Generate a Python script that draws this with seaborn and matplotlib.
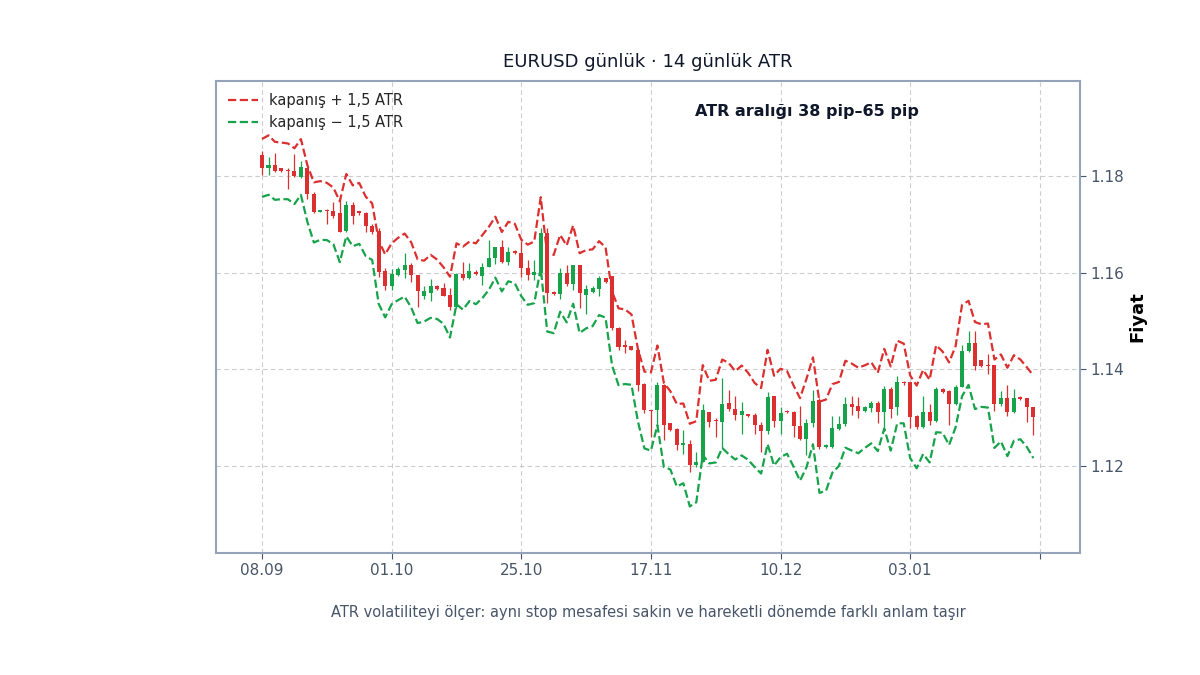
import matplotlib

matplotlib.use("Agg")

import numpy as np
import pandas as pd
import matplotlib.pyplot as plt
import seaborn as sns

# ------------------------------------------------------------------
# Data (EURUSD daily, 120 bars)
# ------------------------------------------------------------------
opens = [
    1.1843, 1.1817, 1.1823, 1.1816, 1.1813, 1.1810, 1.1799, 1.1817, 1.1764, 1.1726,
    1.1729, 1.1728, 1.1724, 1.1687, 1.1740, 1.1728, 1.1724, 1.1697, 1.1687, 1.1603,
    1.1573, 1.1596, 1.1606, 1.1616, 1.1596, 1.1553, 1.1559, 1.1572, 1.1568, 1.1555,
    1.1529, 1.1598, 1.1589, 1.1601, 1.1594, 1.1613, 1.1630, 1.1653, 1.1623, 1.1645,
    1.1640, 1.1610, 1.1595, 1.1599, 1.1683, 1.1561, 1.1556, 1.1599, 1.1577, 1.1617,
    1.1554, 1.1561, 1.1566, 1.1589, 1.1594, 1.1485, 1.1450, 1.1448, 1.1441, 1.1369,
    1.1316, 1.1316, 1.1367, 1.1289, 1.1276, 1.1243, 1.1245, 1.1202, 1.1209, 1.1312,
    1.1296, 1.1291, 1.1331, 1.1319, 1.1305, 1.1307, 1.1305, 1.1285, 1.1273, 1.1344,
    1.1294, 1.1315, 1.1312, 1.1283, 1.1257, 1.1289, 1.1336, 1.1239, 1.1239, 1.1276,
    1.1287, 1.1328, 1.1324, 1.1315, 1.1321, 1.1331, 1.1312, 1.1360, 1.1322, 1.1375,
    1.1373, 1.1303, 1.1281, 1.1312, 1.1293, 1.1359, 1.1355, 1.1329, 1.1364, 1.1439,
    1.1455, 1.1419, 1.1410, 1.1410, 1.1329, 1.1341, 1.1312, 1.1343, 1.1340, 1.1322,
]
highs = [
    1.1852, 1.1840, 1.1849, 1.1817, 1.1816, 1.1845, 1.1831, 1.1819, 1.1768, 1.1730,
    1.1733, 1.1747, 1.1754, 1.1748, 1.1746, 1.1728, 1.1725, 1.1702, 1.1692, 1.1610,
    1.1608, 1.1612, 1.1640, 1.1621, 1.1596, 1.1572, 1.1587, 1.1575, 1.1579, 1.1568,
    1.1599, 1.1623, 1.1621, 1.1606, 1.1621, 1.1668, 1.1654, 1.1667, 1.1654, 1.1647,
    1.1665, 1.1627, 1.1627, 1.1693, 1.1693, 1.1562, 1.1610, 1.1617, 1.1617, 1.1617,
    1.1575, 1.1572, 1.1594, 1.1590, 1.1594, 1.1487, 1.1461, 1.1449, 1.1443, 1.1372,
    1.1317, 1.1374, 1.1370, 1.1290, 1.1278, 1.1274, 1.1254, 1.1230, 1.1328, 1.1312,
    1.1300, 1.1382, 1.1358, 1.1346, 1.1333, 1.1308, 1.1309, 1.1291, 1.1353, 1.1345,
    1.1322, 1.1317, 1.1315, 1.1324, 1.1298, 1.1358, 1.1340, 1.1245, 1.1303, 1.1303,
    1.1343, 1.1346, 1.1343, 1.1324, 1.1335, 1.1335, 1.1365, 1.1364, 1.1386, 1.1377,
    1.1374, 1.1305, 1.1346, 1.1329, 1.1364, 1.1361, 1.1357, 1.1367, 1.1450, 1.1480,
    1.1480, 1.1419, 1.1432, 1.1410, 1.1355, 1.1368, 1.1359, 1.1345, 1.1340, 1.1322,
]
lows = [
    1.1802, 1.1803, 1.1809, 1.1809, 1.1773, 1.1799, 1.1797, 1.1753, 1.1723, 1.1725,
    1.1700, 1.1714, 1.1684, 1.1684, 1.1700, 1.1720, 1.1684, 1.1680, 1.1592, 1.1564,
    1.1565, 1.1594, 1.1589, 1.1580, 1.1529, 1.1546, 1.1541, 1.1564, 1.1551, 1.1524,
    1.1527, 1.1586, 1.1587, 1.1596, 1.1575, 1.1612, 1.1619, 1.1620, 1.1616, 1.1638,
    1.1591, 1.1585, 1.1585, 1.1594, 1.1537, 1.1555, 1.1545, 1.1572, 1.1565, 1.1528,
    1.1515, 1.1559, 1.1552, 1.1578, 1.1481, 1.1441, 1.1433, 1.1440, 1.1356, 1.1310,
    1.1261, 1.1281, 1.1254, 1.1272, 1.1233, 1.1226, 1.1188, 1.1199, 1.1209, 1.1281,
    1.1261, 1.1237, 1.1315, 1.1295, 1.1267, 1.1302, 1.1267, 1.1230, 1.1267, 1.1281,
    1.1267, 1.1309, 1.1261, 1.1254, 1.1223, 1.1281, 1.1235, 1.1238, 1.1237, 1.1274,
    1.1283, 1.1305, 1.1300, 1.1312, 1.1312, 1.1289, 1.1274, 1.1300, 1.1305, 1.1368,
    1.1279, 1.1276, 1.1278, 1.1285, 1.1291, 1.1351, 1.1285, 1.1326, 1.1364, 1.1436,
    1.1398, 1.1405, 1.1391, 1.1315, 1.1324, 1.1304, 1.1309, 1.1336, 1.1291, 1.1264,
]
closes = [
    1.1817, 1.1823, 1.1811, 1.1811, 1.1810, 1.1800, 1.1819, 1.1764, 1.1725, 1.1729,
    1.1727, 1.1718, 1.1685, 1.1740, 1.1718, 1.1723, 1.1696, 1.1685, 1.1601, 1.1573,
    1.1598, 1.1608, 1.1616, 1.1596, 1.1562, 1.1562, 1.1572, 1.1566, 1.1553, 1.1529,
    1.1598, 1.1589, 1.1603, 1.1598, 1.1613, 1.1630, 1.1653, 1.1623, 1.1644, 1.1640,
    1.1610, 1.1596, 1.1601, 1.1683, 1.1558, 1.1556, 1.1599, 1.1577, 1.1617, 1.1558,
    1.1566, 1.1569, 1.1589, 1.1580, 1.1485, 1.1447, 1.1447, 1.1441, 1.1367, 1.1316,
    1.1313, 1.1367, 1.1285, 1.1274, 1.1243, 1.1247, 1.1202, 1.1209, 1.1316, 1.1291,
    1.1293, 1.1329, 1.1319, 1.1305, 1.1315, 1.1303, 1.1285, 1.1273, 1.1343, 1.1294,
    1.1310, 1.1311, 1.1283, 1.1255, 1.1289, 1.1335, 1.1239, 1.1243, 1.1278, 1.1287,
    1.1328, 1.1322, 1.1315, 1.1323, 1.1331, 1.1312, 1.1360, 1.1319, 1.1374, 1.1371,
    1.1302, 1.1281, 1.1312, 1.1293, 1.1360, 1.1353, 1.1329, 1.1364, 1.1439, 1.1455,
    1.1408, 1.1408, 1.1408, 1.1329, 1.1341, 1.1312, 1.1341, 1.1338, 1.1322, 1.1302,
]
# 14-day ATR in pips
atr_pips = [
    40, 41, 40, 39, 38.5, 38.5, 38.5, 39, 41.5, 40.5,
    39.5, 39, 42, 43, 42, 42, 41, 39, 43.5, 43.5,
    42, 43, 43.5, 45, 44, 42, 43.5, 41, 39, 42,
    42, 43.5, 41, 42, 43.5, 43.5, 42, 41, 41, 41,
    39, 41.5, 42.5, 49, 53, 54, 53, 53, 54, 55,
    54, 53, 51, 48.5, 51, 53, 51.5, 48.5, 50, 53,
    54, 55, 58, 54, 57, 55, 57, 56, 62, 57,
    57, 61, 63, 61, 62, 60, 58, 59, 65, 62,
    61, 57, 56, 57, 61, 60, 63, 63, 61, 58,
    60, 60, 59, 57, 56, 54, 55, 58, 57, 55,
    57, 57, 58, 57, 60, 56, 57, 56, 63, 58,
    60, 57, 58, 61, 60, 61, 59, 55, 55, 57,
]
tick_labels = ["08.09", "01.10", "25.10", "17.11", "10.12", "03.01", ""]

RED = "#dc2f2f"
GREEN = "#16a34a"
SPINE = "#94a3b8"
TEXT = "#475569"

df = pd.DataFrame({"open": opens, "high": highs, "low": lows, "close": closes,
                   "atr": np.array(atr_pips) / 10000.0})
df["idx"] = np.arange(len(df))
df["upper"] = df["close"] + 1.5 * df["atr"]
df["lower"] = df["close"] - 1.5 * df["atr"]
df["color"] = np.where(df["close"] >= df["open"], GREEN, RED)

sns.set_theme(style="white")
plt.rcParams["font.family"] = ["DejaVu Sans"]

fig = plt.figure(figsize=(12, 6.75), dpi=100)
ax = fig.add_axes([0.18, 0.1807, 0.72, 0.6993])

# grid
ax.grid(True, color="#cccccc", linestyle=(0, (4, 3)), linewidth=0.8, zorder=0)
ax.set_axisbelow(True)

# candles: wicks + bodies
ax.vlines(df["idx"], df["low"], df["high"], colors=df["color"], linewidth=0.9, zorder=2)
body = (df["close"] - df["open"]).abs().clip(lower=0.00006)
ax.bar(df["idx"], body, bottom=df[["open", "close"]].min(axis=1), width=0.62,
       color=df["color"], linewidth=0, zorder=3)

# ATR bands
sns.lineplot(data=df, x="idx", y="upper", ax=ax, color=RED, linestyle="--",
             linewidth=1.6, label="kapanış + 1,5 ATR", zorder=4)
sns.lineplot(data=df, x="idx", y="lower", ax=ax, color=GREEN, linestyle="--",
             linewidth=1.6, label="kapanış − 1,5 ATR", zorder=4)

ax.set_xlim(-7.1, 126.2)
ax.set_ylim(1.1020, 1.1997)

ax.set_xticks(np.arange(0, 121, 20))
ax.set_xticklabels(tick_labels)
ax.set_yticks([1.12, 1.14, 1.16, 1.18])
ax.set_yticklabels(["1.12", "1.14", "1.16", "1.18"])
ax.yaxis.tick_right()
ax.yaxis.set_label_position("right")
ax.tick_params(axis="both", labelsize=11, labelcolor=TEXT, color=TEXT,
               length=4, width=0.8, bottom=True, right=True, left=False)

ax.set_xlabel("")
ax.set_ylabel("Fiyat", fontsize=13, fontweight="bold", color="black", labelpad=3)

for s in ax.spines.values():
    s.set_visible(True)
    s.set_color(SPINE)
    s.set_linewidth(1.5)

ax.legend(loc="upper left", frameon=False, fontsize=10.5, handlelength=2.0,
          borderaxespad=0.45, labelspacing=0.45)

ax.text(0.554, 0.936, "ATR aralığı 38 pip–65 pip", transform=ax.transAxes,
        fontsize=11.5, fontweight="bold", color="#0f172a", ha="left", va="center")

ax.set_title("EURUSD günlük · 14 günlük ATR", fontsize=13, color="#0f172a", pad=10)

fig.text(0.54, 0.093, "ATR volatiliteyi ölçer: aynı stop mesafesi sakin ve hareketli "
         "dönemde farklı anlam taşır", ha="center", va="center", fontsize=10.5,
         color=TEXT)

fig.savefig("out.png", dpi=100)
plt.close(fig)
